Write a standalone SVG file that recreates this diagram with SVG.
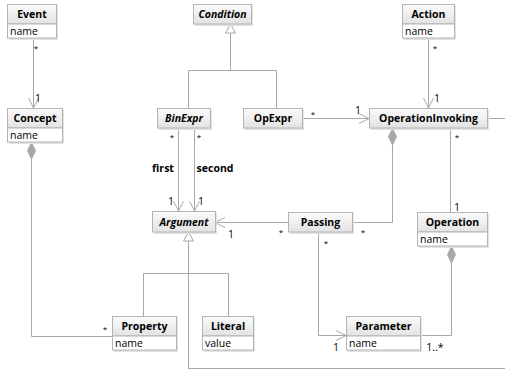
<svg xmlns="http://www.w3.org/2000/svg" width="505" height="372" viewBox="0 0 505 372">
  <defs>
    <linearGradient id="hdr" x1="0" y1="0" x2="0" y2="1">
      <stop offset="0" stop-color="#fbfbfb"/>
      <stop offset="1" stop-color="#e2e2e2"/>
    </linearGradient>
    <marker id="open" viewBox="-11 -6 12 12" refX="0" refY="0" markerWidth="12" markerHeight="12" markerUnits="userSpaceOnUse" orient="auto">
      <path d="M-10,-5 L0,0 L-10,5" fill="none" stroke="#a8a8a8" stroke-width="1"/>
    </marker>
  </defs>
  <style>
    .shadow { fill: #e2e2e2; }
    .box { fill: url(#hdr); stroke: #b4b4b4; stroke-width: 1; }
    .attr { fill: #ffffff; stroke: #b4b4b4; stroke-width: 1; }
    .name { font-family: "Open Sans", "Noto Sans", sans-serif; font-size: 10.5px; font-weight: bold; fill: #000; text-anchor: middle; }
    .abstract { font-style: italic; }
    .field { font-family: "Open Sans", "Noto Sans", sans-serif; font-size: 10.5px; fill: #000; }
    .line { fill: none; stroke: #a8a8a8; stroke-width: 1; }
    .arrow { marker-end: url(#open); }
    .gen { fill: #ffffff; stroke: #a8a8a8; stroke-width: 1; }
    .comp { fill: #a8a8a8; stroke: #a8a8a8; stroke-width: 1; }
    .mult { font-family: "Open Sans", "Noto Sans", sans-serif; font-size: 10.5px; fill: #000; text-anchor: middle; }
    .star { font-family: "Open Sans", "Noto Sans", sans-serif; font-size: 8px; fill: #000; text-anchor: middle; }
    .role { font-family: "Open Sans", "Noto Sans", sans-serif; font-size: 10.5px; font-weight: bold; fill: #000; text-anchor: middle; }
  </style>

  <!-- connectors -->
  <g id="connectors">
    <!-- Event -> Concept -->
    <path class="line arrow" d="M33.5,38 V108"/>
    <!-- Action -> OperationInvoking -->
    <path class="line arrow" d="M428.5,38 V108"/>
    <!-- Condition generalization tree -->
    <path class="line" d="M230.5,33 V70.5 M188.5,70.5 H276.5 M188.5,70.5 V108 M276.5,70.5 V108"/>
    <polygon class="gen" points="230.5,24 235.5,33 225.5,33"/>
    <!-- OpExpr -> OperationInvoking -->
    <path class="line arrow" d="M303,118.5 H369"/>
    <!-- OperationInvoking outgoing to the right -->
    <path class="line" d="M487,118.5 H505"/>
    <!-- BinExpr first / second -> Argument -->
    <path class="line arrow" d="M178.5,128 V211"/>
    <path class="line arrow" d="M194.5,128 V211"/>
    <!-- OperationInvoking -> Operation -->
    <path class="line" d="M450.5,128 V212"/>
    <!-- OperationInvoking composite of Passing -->
    <path class="line" d="M392.5,145 V222.5 H352"/>
    <polygon class="comp" points="392.5,128.5 396.5,136.5 392.5,145 388.5,136.5"/>
    <!-- Passing -> Argument -->
    <path class="line arrow" d="M288,222.5 H215"/>
    <!-- Argument generalization tree -->
    <polygon class="gen" points="188.5,232 193.5,241 183.5,241"/>
    <path class="line" d="M188.5,241 V368.5 H505 M143.5,273.5 H228.5 M143.5,273.5 V316 M228.5,273.5 V316"/>
    <!-- Concept composite of Property -->
    <polygon class="comp" points="31.5,142.5 35.5,150.5 31.5,159 27.5,150.5"/>
    <path class="line" d="M31.5,159 V336.5 H112"/>
    <!-- Passing -> Parameter -->
    <path class="line arrow" d="M318.5,232 V335.5 H346"/>
    <!-- Operation composite of Parameter -->
    <polygon class="comp" points="451.5,246.5 455.5,254.5 451.5,263 447.5,254.5"/>
    <path class="line" d="M451.5,263 V335.5 H420"/>

    <!-- multiplicities and roles -->
    <text class="star" x="36" y="51">*</text>
    <text class="mult" x="38" y="102">1</text>
    <text class="star" x="435" y="51">*</text>
    <text class="mult" x="437" y="102">1</text>
    <text class="star" x="313" y="117">*</text>
    <text class="mult" x="358" y="114">1</text>
    <text class="star" x="172" y="140">*</text>
    <text class="star" x="199" y="140">*</text>
    <text class="role" x="163" y="172">first</text>
    <text class="role" x="215" y="172">second</text>
    <text class="mult" x="171" y="205">1</text>
    <text class="mult" x="201" y="205">1</text>
    <text class="mult" x="231" y="238">1</text>
    <text class="star" x="281" y="235">*</text>
    <text class="star" x="363" y="235">*</text>
    <text class="star" x="326" y="246">*</text>
    <text class="star" x="457" y="140">*</text>
    <text class="mult" x="457" y="211">1</text>
    <text class="star" x="105" y="332">*</text>
    <text class="mult" x="336" y="351">1</text>
    <text class="mult" x="435" y="351">1..*</text>
  </g>

  <!-- classes -->
  <g id="Event">
    <rect class="shadow" x="9" y="6" width="49" height="34"/>
    <rect class="box" x="7.5" y="4.5" width="49" height="19.5"/>
    <rect class="attr" x="7.5" y="24" width="49" height="14"/>
    <text class="name" x="32" y="18">Event</text>
    <text class="field" x="10" y="35">name</text>
  </g>

  <g id="Concept">
    <rect class="shadow" x="9" y="110" width="55" height="34"/>
    <rect class="box" x="7.5" y="108.5" width="55" height="19.5"/>
    <rect class="attr" x="7.5" y="128" width="55" height="14"/>
    <text class="name" x="35" y="122">Concept</text>
    <text class="field" x="10" y="139">name</text>
  </g>

  <g id="Condition">
    <rect class="shadow" x="195" y="6" width="58" height="20"/>
    <rect class="box" x="193.5" y="4.5" width="58" height="19.5"/>
    <text class="name abstract" x="222.5" y="18">Condition</text>
  </g>

  <g id="Action">
    <rect class="shadow" x="404" y="6" width="52" height="34"/>
    <rect class="box" x="402.5" y="4.5" width="52" height="19.5"/>
    <rect class="attr" x="402.5" y="24" width="52" height="14"/>
    <text class="name" x="428.5" y="18">Action</text>
    <text class="field" x="405" y="35">name</text>
  </g>

  <g id="BinExpr">
    <rect class="shadow" x="159" y="110" width="53" height="20"/>
    <rect class="box" x="157.5" y="108.5" width="53" height="19.5"/>
    <text class="name abstract" x="184" y="122">BinExpr</text>
  </g>

  <g id="OpExpr">
    <rect class="shadow" x="245" y="110" width="59" height="20"/>
    <rect class="box" x="243.5" y="108.5" width="59" height="19.5"/>
    <text class="name" x="273" y="122">OpExpr</text>
  </g>

  <g id="OperationInvoking">
    <rect class="shadow" x="371" y="110" width="118" height="20"/>
    <rect class="box" x="369.5" y="108.5" width="118" height="19.5"/>
    <text class="name" x="428.5" y="122">OperationInvoking</text>
  </g>

  <g id="Argument">
    <rect class="shadow" x="154" y="213" width="63" height="21"/>
    <rect class="box" x="152.5" y="211.5" width="63" height="20.5"/>
    <text class="name abstract" x="184" y="226">Argument</text>
  </g>

  <g id="Passing">
    <rect class="shadow" x="290" y="214" width="64" height="20"/>
    <rect class="box" x="288.5" y="212.5" width="64" height="19.5"/>
    <text class="name" x="320.5" y="226">Passing</text>
  </g>

  <g id="Operation">
    <rect class="shadow" x="419" y="214" width="70" height="34"/>
    <rect class="box" x="417.5" y="212.5" width="70" height="19.5"/>
    <rect class="attr" x="417.5" y="232" width="70" height="14"/>
    <text class="name" x="452.5" y="226">Operation</text>
    <text class="field" x="420" y="243">name</text>
  </g>

  <g id="Property">
    <rect class="shadow" x="114" y="318" width="64" height="34"/>
    <rect class="box" x="112.5" y="316.5" width="64" height="19.5"/>
    <rect class="attr" x="112.5" y="336" width="64" height="14"/>
    <text class="name" x="144.5" y="330">Property</text>
    <text class="field" x="115" y="347">name</text>
  </g>

  <g id="Literal">
    <rect class="shadow" x="204" y="318" width="51" height="34"/>
    <rect class="box" x="202.5" y="316.5" width="51" height="19.5"/>
    <rect class="attr" x="202.5" y="336" width="51" height="14"/>
    <text class="name" x="228" y="330">Literal</text>
    <text class="field" x="205" y="347">value</text>
  </g>

  <g id="Parameter">
    <rect class="shadow" x="348" y="318" width="74" height="34"/>
    <rect class="box" x="346.5" y="316.5" width="74" height="19.5"/>
    <rect class="attr" x="346.5" y="336" width="74" height="14"/>
    <text class="name" x="383.5" y="330">Parameter</text>
    <text class="field" x="349" y="347">name</text>
  </g>
</svg>
